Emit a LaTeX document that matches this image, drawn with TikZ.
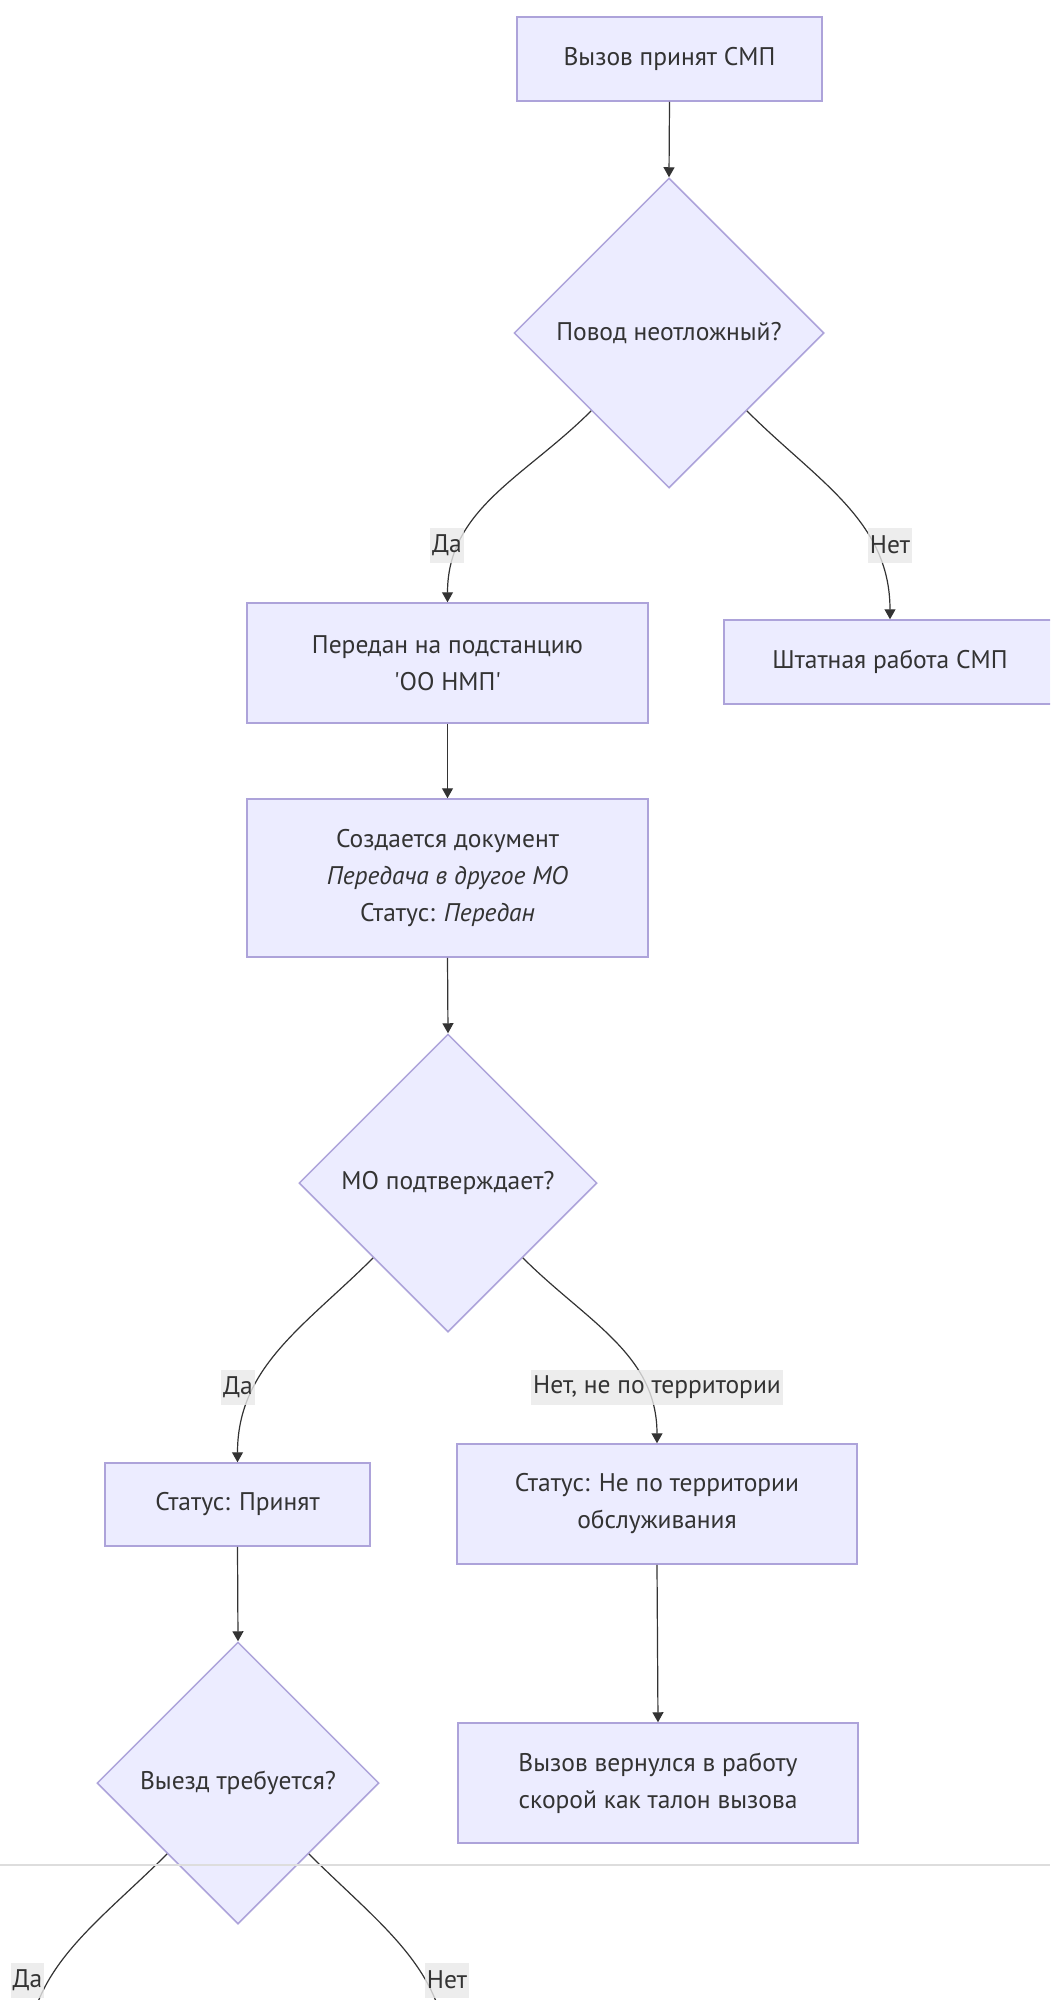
\documentclass[tikz,border=0pt]{standalone}
\usepackage{fontspec}
\setmainfont{PT Sans}
\usepackage{tikz}
\usetikzlibrary{arrows.meta,shapes.geometric}
\definecolor{ink}{HTML}{333333}
\definecolor{boxfill}{HTML}{ECECFF}
\definecolor{boxline}{HTML}{ADA3DA}
\definecolor{tagfill}{HTML}{E8E8E8}
\definecolor{sepline}{HTML}{DDDDDD}
\tikzset{
  proc/.style={draw=boxline,line width=1.5pt,fill=boxfill,text=ink,
    inner sep=0pt,align=center},
  choice/.style={diamond,aspect=1,draw=boxline,line width=1.5pt,
    fill=boxfill,text=ink,inner sep=0pt,align=center},
  ar/.style={draw=ink,line width=1.2pt,-{Triangle[length=10pt,width=11pt]}},
  tag/.style={fill=tagfill,fill opacity=0.8,text opacity=1,text=ink,
    inner xsep=2pt,inner ysep=0pt,minimum height=35pt},
}

\begin{document}
\begin{tikzpicture}[x=1pt,y=-1pt,every node/.style={font=\fontsize{25.5}{37}\selectfont}]
  \useasboundingbox (0,0) rectangle (1050,2000);
  \clip (0,0) rectangle (1050,2000);

  % main column: call and first decision
  \node[proc,minimum width=305pt,minimum height=84pt] (call) at (669.5,59) {Вызов принят СМП};
  \node[choice,minimum width=310pt,minimum height=310pt] (urgent) at (669,333) {Повод неотложный?};
  \node[proc,minimum width=401pt,minimum height=120pt] (sub) at (447.5,663)
     {Передан на подстанцию\\\textquotesingle ОО НМП\textquotesingle};
  \node[proc,minimum width=332pt,minimum height=84pt] (usual) at (890,662) {Штатная работа СМП};
  \node[proc,minimum width=401pt,minimum height=158pt] (doc) at (447.5,878)
     {Создается документ\\\textit{Передача в другое МО}\\Статус: \textit{Передан}};
  \draw[ar] (call.south) -- (urgent.north);
  \draw[ar] (urgent.south west) to[out=-135,in=90] (sub.north);
  \draw[ar] (urgent.south east) to[out=-45,in=90] (usual.north);
  \draw[ar] (sub.south) -- (doc.north);
  \node[tag] (yesA) at (447,545) {Да};
  \node[tag] (noA) at (890,545) {Нет};

  % second decision: does the MO confirm
  \node[choice,minimum width=298pt,minimum height=298pt] (confirm) at (448,1183) {МО подтверждает?};
  \node[proc,minimum width=265pt,minimum height=83pt] (taken) at (237.5,1504.5) {Статус: Принят};
  \node[proc,minimum width=400pt,minimum height=120pt] (foreign) at (657,1504)
     {Статус: Не по территории\\обслуживания};
  \node[choice,minimum width=282pt,minimum height=282pt] (depart) at (238,1783) {Выезд требуется?};
  \node[proc,minimum width=400pt,minimum height=120pt] (back) at (658,1783)
     {Вызов вернулся в работу\\скорой как талон вызова};
  \draw[ar] (doc.south) -- (confirm.north);
  \draw[ar] (confirm.south west) to[out=-135,in=90] (taken.north);
  \draw[ar] (confirm.south east) to[out=-45,in=90] (foreign.north);
  \draw[ar] (taken.south) -- (depart.north);
  \draw[ar] (foreign.south) -- (back.north);
  \node[tag] (yesB) at (238,1387) {Да};
  \node[tag] (noB) at (657,1387) {Нет, не по территории};

  % third decision runs off the page
  \coordinate (yesEnd) at (27,2070);
  \coordinate (noEnd) at (447,2070);
  \draw[ar] (depart.south west) to[out=-135,in=90] (yesEnd);
  \draw[ar] (depart.south east) to[out=-45,in=90] (noEnd);
  \node[tag] (yesC) at (27.5,1980) {Да};
  \node[tag] (noC) at (447,1980) {Нет};

  % page break line
  \coordinate (sepL) at (0,1865);
  \coordinate (sepR) at (1050,1865);
  \draw[sepline,line width=2pt] (sepL) -- (sepR);
\end{tikzpicture}
\end{document}
